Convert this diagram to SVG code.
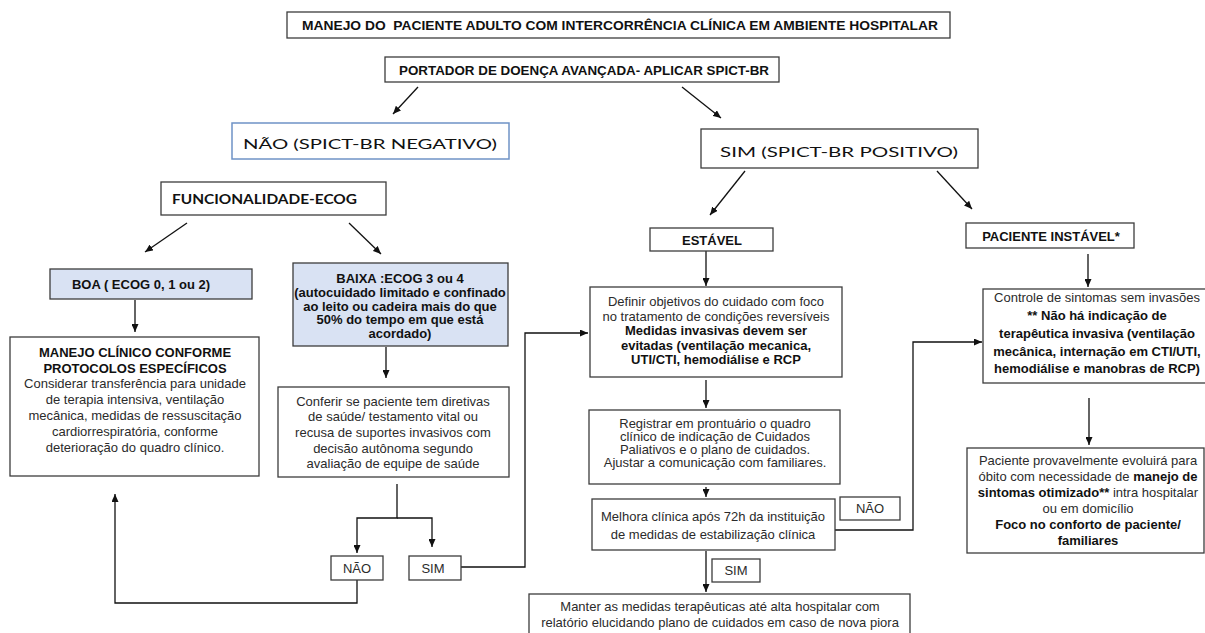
<svg xmlns="http://www.w3.org/2000/svg" width="1205" height="633" viewBox="0 0 1205 633">
<style>
.box{fill:#fff;stroke:#3c3c3c;stroke-width:1.3}
.blue{fill:#d9e2f3}
.bl{stroke:#6f93c6;stroke-width:1.5}
.conn{fill:none;stroke:#111;stroke-width:1.3}
text{font-family:"Liberation Sans",Arial,sans-serif;font-size:13px;fill:#2b2b2b;text-anchor:middle}
.b{font-weight:bold;fill:#111}
.c{font-family:Lato,"Open Sans",sans-serif;fill:#111}
.pre{white-space:pre}
</style>
<defs>
<marker id="ah" viewBox="0 0 8 7" refX="8" refY="3.5" markerWidth="8" markerHeight="7" markerUnits="userSpaceOnUse" orient="auto">
<path d="M0,0 L8,3.5 L0,7 z" fill="#111"/>
</marker>
</defs>

<g id="connectors">
<path class="conn" d="M418,87 L393,114" marker-end="url(#ah)"/>
<path class="conn" d="M682,87 L721,118" marker-end="url(#ah)"/>
<path class="conn" d="M745,171 L710,215" marker-end="url(#ah)"/>
<path class="conn" d="M937,171 L972,209" marker-end="url(#ah)"/>
<path class="conn" d="M187,223 L145,252" marker-end="url(#ah)"/>
<path class="conn" d="M349,223 L381,254" marker-end="url(#ah)"/>
<path class="conn" d="M135,300 V332" marker-end="url(#ah)"/>
<path class="conn" d="M386,347 V378" marker-end="url(#ah)"/>
<path class="conn" d="M397,484 V518 H357 V553" marker-end="url(#ah)"/>
<path class="conn" d="M397,518 H432 V547" marker-end="url(#ah)"/>
<path class="conn" d="M357,580 V603 H115 V494" marker-end="url(#ah)"/>
<path class="conn" d="M461,567 H525 V333 H588" marker-end="url(#ah)"/>
<path class="conn" d="M706,251 V286" marker-end="url(#ah)"/>
<path class="conn" d="M706,380 V408" marker-end="url(#ah)"/>
<path class="conn" d="M706,487 V497" marker-end="url(#ah)"/>
<path class="conn" d="M706,551 V592" marker-end="url(#ah)"/>
<path class="conn" d="M835,530 H913 V342 H982" marker-end="url(#ah)"/>
<path class="conn" d="M1088,254 V287" marker-end="url(#ah)"/>
<path class="conn" d="M1089,398 V445" marker-end="url(#ah)"/>
</g>

<g id="title">
<rect class="box" x="287" y="12" width="663" height="26"/>
<text class="b pre" x="620" y="30" font-size="14" textLength="636" lengthAdjust="spacingAndGlyphs">MANEJO DO  PACIENTE ADULTO COM INTERCORRÊNCIA CLÍNICA EM AMBIENTE HOSPITALAR</text>
</g>

<g id="portador">
<rect class="box" x="385" y="57" width="394" height="25"/>
<text class="b" x="584" y="75" font-size="13.8" textLength="370" lengthAdjust="spacingAndGlyphs">PORTADOR DE DOENÇA AVANÇADA- APLICAR SPICT-BR</text>
</g>

<g id="spict-negativo">
<rect class="box bl" x="232" y="123" width="277" height="36"/>
<text class="c" x="370" y="149" font-size="22" textLength="254" lengthAdjust="spacingAndGlyphs">NÃO (SPICT-BR NEGATIVO)</text>
</g>

<g id="spict-positivo">
<rect class="box" x="701" y="129" width="277" height="39"/>
<text class="c" x="839" y="156.5" font-size="22" textLength="238" lengthAdjust="spacingAndGlyphs">SIM (SPICT-BR POSITIVO)</text>
</g>

<g id="funcionalidade">
<rect class="box" x="161" y="182" width="225" height="33"/>
<text class="c b" x="264.5" y="204" font-size="16" textLength="185" lengthAdjust="spacingAndGlyphs">FUNCIONALIDADE-ECOG</text>
</g>

<g id="boa">
<rect class="box blue" x="50" y="269" width="202" height="30"/>
<text class="b" x="141" y="288.5">BOA ( ECOG 0, 1 ou 2)</text>
</g>

<g id="baixa">
<rect class="box blue" x="293" y="263" width="215" height="83"/>
<text class="b" x="400" y="283">BAIXA :ECOG 3 ou 4</text>
<text class="b" x="400" y="297" font-size="12.6">(autocuidado limitado e confinado</text>
<text class="b" x="400" y="310.5" font-size="12.6">ao leito ou cadeira mais do que</text>
<text class="b" x="400" y="324" font-size="12.6">50% do tempo em que está</text>
<text class="b" x="400" y="338" font-size="12.6">acordado)</text>
</g>

<g id="manejo-clinico">
<rect class="box" x="10" y="337" width="249" height="139"/>
<text class="b" x="135" y="357" font-size="13.5">MANEJO CLÍNICO CONFORME</text>
<text class="b" x="135" y="372.5" font-size="15">PROTOCOLOS ESPECÍFICOS</text>
<text x="135" y="388" font-size="14">Considerar transferência para unidade</text>
<text x="135" y="404" font-size="14">de terapia intensiva, ventilação</text>
<text x="135" y="420" font-size="14">mecânica, medidas de ressuscitação</text>
<text x="135" y="436" font-size="14">cardiorrespiratória, conforme</text>
<text x="135" y="451.5" font-size="14">deterioração do quadro clínico.</text>
</g>

<g id="conferir">
<rect class="box" x="278" y="387" width="231" height="90"/>
<text x="393" y="405.5">Conferir se paciente tem diretivas</text>
<text x="393" y="421">de saúde/ testamento vital ou</text>
<text x="393" y="437">recusa de suportes invasivos com</text>
<text x="393" y="452.5">decisão autônoma segundo</text>
<text x="393" y="468">avaliação de equipe de saúde</text>
</g>

<g id="nao-diretivas">
<rect class="box" x="331" y="556" width="52" height="24"/>
<text x="357" y="572.5">NÃO</text>
</g>

<g id="sim-diretivas">
<rect class="box" x="409" y="556" width="52" height="24"/>
<text x="433" y="572.5">SIM</text>
</g>

<g id="estavel">
<rect class="box" x="650" y="228" width="123" height="23"/>
<text class="b" x="712" y="244.5" font-size="14">ESTÁVEL</text>
</g>

<g id="definir">
<rect class="box" x="590" y="287" width="252" height="90"/>
<text x="716" y="306">Definir objetivos do cuidado com foco</text>
<text x="716" y="320.5">no tratamento de condições reversíveis</text>
<text class="b" x="716" y="335">Medidas invasivas devem ser</text>
<text class="b" x="716" y="349.5">evitadas (ventilação mecanica,</text>
<text class="b" x="716" y="364">UTI/CTI, hemodiálise e RCP</text>
</g>

<g id="registrar">
<rect class="box" x="589" y="410" width="251" height="74"/>
<text x="715" y="427.5">Registrar em prontuário o quadro</text>
<text x="715" y="440.5">clínico de indicação de Cuidados</text>
<text x="715" y="453.5">Paliativos e o plano de cuidados.</text>
<text x="715" y="466.5">Ajustar a comunicação com familiares.</text>
</g>

<g id="melhora">
<rect class="box" x="592" y="499" width="243" height="51"/>
<text x="713" y="521">Melhora clínica após 72h da instituição</text>
<text x="713" y="539">de medidas de estabilização clínica</text>
</g>

<g id="nao-melhora">
<rect class="box" x="840" y="497" width="60" height="23"/>
<text x="870" y="513">NÃO</text>
</g>

<g id="sim-melhora">
<rect class="box" x="712" y="559" width="48" height="23"/>
<text x="736" y="575">SIM</text>
</g>

<g id="manter">
<rect class="box" x="529" y="594" width="381" height="45"/>
<text x="720" y="611">Manter as medidas terapêuticas até alta hospitalar com</text>
<text x="720" y="626.5">relatório elucidando plano de cuidados em caso de nova piora</text>
</g>

<g id="instavel">
<rect class="box" x="966" y="223" width="168" height="25"/>
<text class="b" x="1051" y="240.5" font-size="14">PACIENTE INSTÁVEL*</text>
</g>

<g id="controle">
<rect class="box" x="983" y="289" width="230" height="94"/>
<text x="1097" y="301.5">Controle de sintomas sem invasões</text>
<text class="b" x="1097" y="319.5">** Não há indicação de</text>
<text class="b" x="1097" y="337.5">terapêutica invasiva (ventilação</text>
<text class="b" x="1097" y="355.5">mecânica, internação em CTI/UTI,</text>
<text class="b" x="1097" y="372.5">hemodiálise e manobras de RCP)</text>
</g>

<g id="paciente-obito">
<rect class="box" x="967" y="448" width="237" height="105"/>
<text x="1088" y="464.5">Paciente provavelmente evoluirá para</text>
<text x="1088" y="481">óbito com necessidade de <tspan class="b">manejo de</tspan></text>
<text x="1088" y="497"><tspan class="b">sintomas otimizado**</tspan> intra hospitalar</text>
<text x="1088" y="512.5">ou em domicílio</text>
<text class="b" x="1088" y="529">Foco no conforto de paciente/</text>
<text class="b" x="1088" y="544.5">familiares</text>
</g>
</svg>
